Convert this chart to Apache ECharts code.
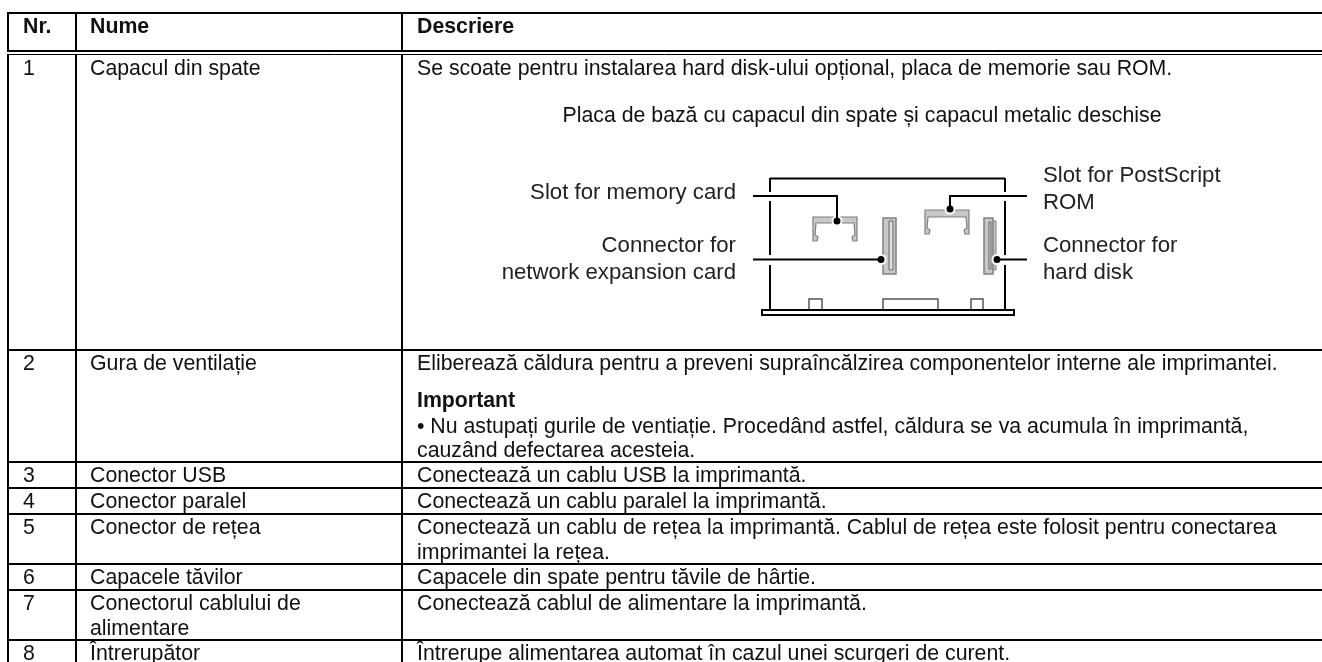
<!DOCTYPE html>
<html>
<head>
<meta charset="utf-8">
<style>
html, body { margin: 0; padding: 0; background: #fff; }
#chart { width: 1322px; height: 662px; }
</style>
<script src="https://cdn.jsdelivr.net/npm/echarts@6/dist/echarts.min.js"></script>
</head>
<body>
<div id="chart"></div>
<script>
const headers = ['Nr.', 'Nume', 'Descriere'];
const rowNumbers = ['1', '2', '3', '4', '5', '6', '7', '8'];
const rowNames = [
    ['Capacul din spate'],
    ['Gura de ventilație'],
    ['Conector USB'],
    ['Conector paralel'],
    ['Conector de rețea'],
    ['Capacele tăvilor'],
    ['Conectorul cablului de', 'alimentare'],
    ['Întrerupător']
];
const rowDescriptions = [
    ['Se scoate pentru instalarea hard disk-ului opțional, placa de memorie sau ROM.'],
    ['Eliberează căldura pentru a preveni supraîncălzirea componentelor interne ale imprimantei.'],
    ['Conectează un cablu USB la imprimantă.'],
    ['Conectează un cablu paralel la imprimantă.'],
    ['Conectează un cablu de rețea la imprimantă. Cablul de rețea este folosit pentru conectarea', 'imprimantei la rețea.'],
    ['Capacele din spate pentru tăvile de hârtie.'],
    ['Conectează cablul de alimentare la imprimantă.'],
    ['Întrerupe alimentarea automat în cazul unei scurgeri de curent.']
];
const figureCaption = 'Placa de bază cu capacul din spate și capacul metalic deschise';
const noteTitle = 'Important';
const noteLines = [
    '• Nu astupați gurile de ventiație. Procedând astfel, căldura se va acumula în imprimantă,',
    'cauzând defectarea acesteia.'
];
const leftLabels = ['Slot for memory card', 'Connector for', 'network expansion card'];
const rightLabels = ['Slot for PostScript', 'ROM', 'Connector for', 'hard disk'];

const FONT = '"Liberation Sans", Arial, sans-serif';
const TEXT_SIZE = 21.3;
const FIG_SIZE = 22.2;
const rowTop = [55, 350, 462, 488, 514, 564, 590, 640];
const lineGap = 25;
const colText = [23, 90, 417];
const colLines = [8, 76, 402];
const tableRight = 1322;

const els = [];

function line(x1, y1, x2, y2, w, color) {
    els.push({
        type: 'line',
        shape: {x1, y1, x2, y2},
        style: {stroke: color || '#000', lineWidth: w || 2},
        silent: true
    });
}

function poly(points, fill, stroke, w) {
    els.push({
        type: 'polygon',
        shape: {points},
        style: {fill, stroke, lineWidth: w || 1},
        silent: true
    });
}

function box(x, y, width, height, fill, stroke, w) {
    els.push({
        type: 'rect',
        shape: {x, y, width, height},
        style: {fill, stroke, lineWidth: w || 1},
        silent: true
    });
}

function dot(x, y) {
    els.push({
        type: 'circle',
        shape: {cx: x, cy: y, r: 5.5},
        style: {fill: '#fff'},
        silent: true
    });
    els.push({
        type: 'circle',
        shape: {cx: x, cy: y, r: 3.5},
        style: {fill: '#000'},
        silent: true
    });
}

function label(text, x, y, opts) {
    const o = opts || {};
    els.push({
        type: 'text',
        x,
        y,
        silent: true,
        style: {
            text,
            fill: o.color || '#111',
            font: (o.bold ? 'bold ' : '') + (o.size || TEXT_SIZE) + 'px ' + FONT,
            textAlign: o.align || 'left',
            textVerticalAlign: 'middle'
        }
    });
}

// table rules
line(7, 13, tableRight, 13);
line(7, 51, tableRight, 51);
line(7, 54.5, tableRight, 54.5, 1);
rowTop.slice(1).forEach(y => line(7, y, tableRight, y));
colLines.forEach(x => {
    line(x, 12, x, 50);
    line(x, 55, x, 662);
});

// header and cells
headers.forEach((h, i) => label(h, colText[i], 27, {bold: true}));
rowNumbers.forEach((n, i) => {
    const y = rowTop[i] + 14;
    label(n, colText[0], y);
    rowNames[i].forEach((s, j) => label(s, colText[1], y + j * lineGap));
    rowDescriptions[i].forEach((s, j) => label(s, colText[2], y + j * lineGap));
});

// note inside row 2
label(noteTitle, colText[2], 401.5, {bold: true});
noteLines.forEach((s, j) => label(s, colText[2], 427 + j * 24));
label(figureCaption, 862, 116, {align: 'center'});

// diagram labels
const figText = {size: FIG_SIZE, color: '#222'};
const figRight = {size: FIG_SIZE, color: '#222', align: 'right'};
label(leftLabels[0], 736, 193, figRight);
label(leftLabels[1], 736, 246, figRight);
label(leftLabels[2], 736, 273, figRight);
label(rightLabels[0], 1043, 176, figText);
label(rightLabels[1], 1043, 203, figText);
label(rightLabels[2], 1043, 246, figText);
label(rightLabels[3], 1043, 273, figText);

// board outline
line(770, 178.5, 1005, 178.5);
line(770, 178, 770, 192);
line(770, 201, 770, 255);
line(770, 265, 770, 310);
line(1005, 178, 1005, 192);
line(1005, 201, 1005, 255);
line(1005, 265, 1005, 310);
box(809, 299, 13, 11, '#fff', '#555', 1.5);
box(883, 299, 55, 11, '#fff', '#555', 1.5);
box(971, 299, 12, 11, '#fff', '#555', 1.5);
box(762, 310, 252, 5, '#fff', '#000', 2);

// memory slot brackets
const GRAY = '#c8c8c8';
const EDGE = '#808080';
poly([[813, 217], [857, 217], [857, 241], [853, 241], [852, 237], [855, 235], [854, 223], [816, 223], [815, 235], [818, 237], [817, 241], [813, 241]], GRAY, EDGE, 1.2);
poly([[925, 210], [969, 210], [969, 234], [965, 234], [964, 230], [967, 228], [966, 217], [928, 217], [927, 228], [930, 230], [929, 234], [925, 234]], GRAY, EDGE, 1.2);

// connectors
box(883, 218, 13, 56, GRAY, EDGE, 1.5);
box(889, 221, 4, 49, '#ddd', '#666');
box(989, 221, 7, 49, GRAY, EDGE);
box(984, 218, 9, 56, GRAY, EDGE, 1.5);
box(989, 222, 2, 47, '#ddd', '#666');

// leaders
dot(837, 221);
dot(881, 259.5);
dot(950, 209);
dot(997, 259.5);
line(753, 196, 837, 196);
line(837, 195, 837, 221);
line(753, 259.5, 881, 259.5);
line(950, 196, 1027, 196);
line(950, 195, 950, 209);
line(997, 259.5, 1027, 259.5);

const chart = echarts.init(document.getElementById('chart'));
chart.setOption({
    backgroundColor: '#fff',
    animation: false,
    graphic: {elements: els}
});
</script>
</body>
</html>
